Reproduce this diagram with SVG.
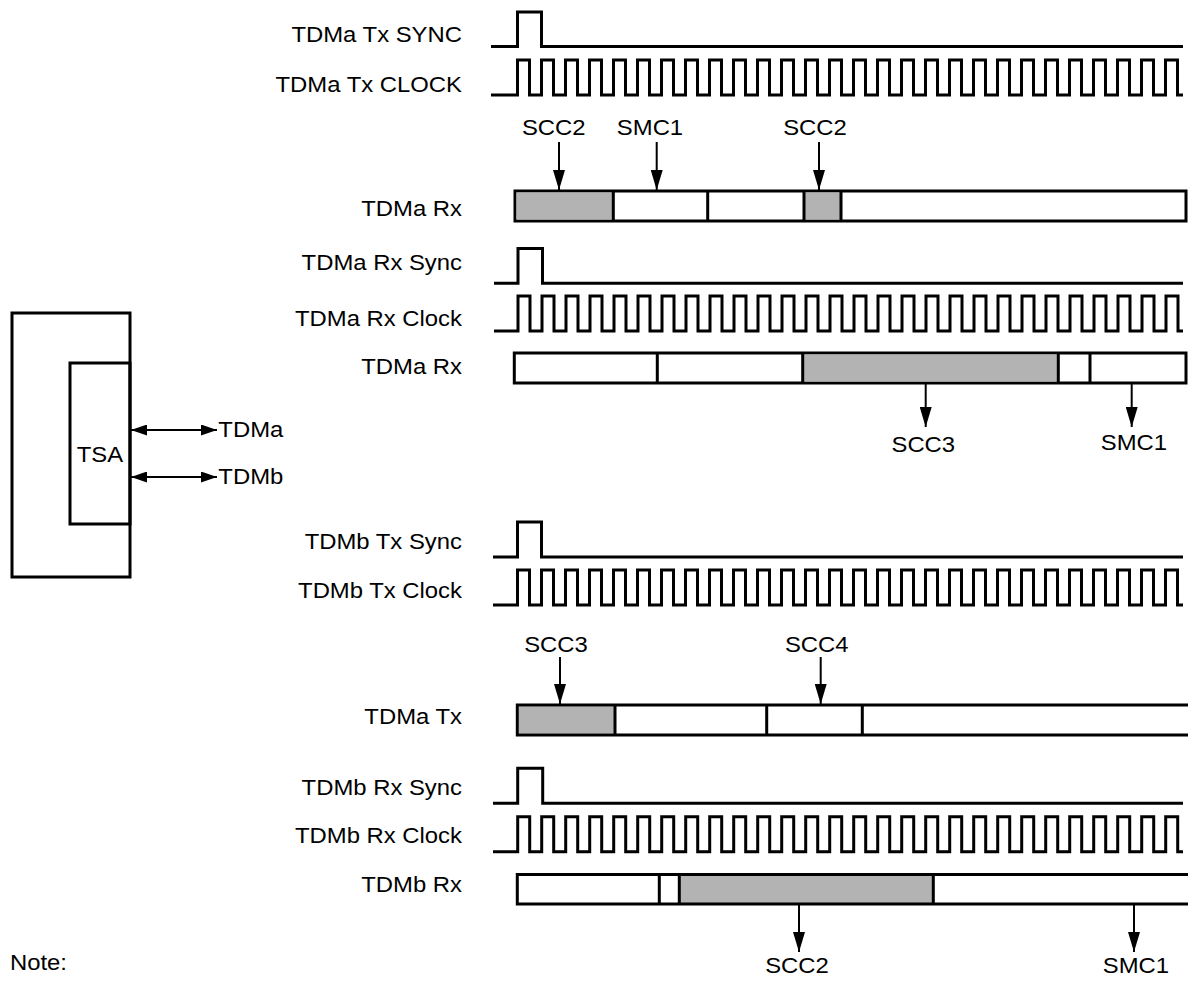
<svg xmlns="http://www.w3.org/2000/svg" width="1188" height="983" viewBox="0 0 1188 983">
<style>
  .wave{fill:none;stroke:#000;stroke-width:3;stroke-linejoin:miter;stroke-linecap:butt}
  .bar{fill:#fff;stroke:#000;stroke-width:3}
  .grey{fill:#b3b3b3;stroke:none}
  .div{stroke:#000;stroke-width:3;fill:none}
  .arr{stroke:#000;stroke-width:2;fill:none;marker-end:url(#ah)}
  .darr{stroke:#000;stroke-width:2;fill:none;marker-start:url(#ahs);marker-end:url(#ahs)}
  .box{fill:none;stroke:#000;stroke-width:3}
  text{font-family:"Liberation Sans",Arial,Helvetica,sans-serif;font-size:21.5px;fill:#000}
  .lbl{text-anchor:end}
  .mid{text-anchor:middle}
</style>
<defs>
  <marker id="ah" viewBox="0 0 20 12" refX="20" refY="6" markerWidth="20" markerHeight="12" markerUnits="userSpaceOnUse" orient="auto">
    <path d="M0,0 L20,6 L0,12 z" fill="#000"/>
  </marker>
  <marker id="ahs" viewBox="0 0 16 11" refX="16" refY="5.5" markerWidth="16" markerHeight="11" markerUnits="userSpaceOnUse" orient="auto-start-reverse">
    <path d="M0,0 L16,5.5 L0,11 z" fill="#000"/>
  </marker>
</defs>

<!-- TSA block -->
<g id="tsa-block">
  <rect class="box" x="12" y="313" width="118" height="264"/>
  <rect class="box" x="70" y="363" width="60" height="161"/>
  <text transform="scale(1.11 1)" x="90.1" y="462" class="mid">TSA</text>
</g>
<g id="tsa-connectors">
  <line class="darr" x1="131" y1="430" x2="217" y2="430"/>
  <line class="darr" x1="131" y1="477" x2="217" y2="477"/>
</g>
<g id="tsa-labels">
  <text transform="scale(1.11 1)" x="196.7" y="437">TDMa</text>
  <text transform="scale(1.11 1)" x="196.7" y="484">TDMb</text>
</g>

<!-- Section A: TDMa Tx -->
<g id="tdma-tx-sync">
  <text transform="scale(1.11 1)" class="lbl" x="416.2" y="42">TDMa Tx SYNC</text>
  <path class="wave" d="M491,46.5 H517.5 V12 H541.5 V46.5 H1183"/>
</g>
<g id="tdma-tx-clock">
  <text transform="scale(1.11 1)" class="lbl" x="416.2" y="92">TDMa Tx CLOCK</text>
  <path class="wave" d="M491,95 H517.5
    v-35 h12 v35 h12 v-35 h12 v35 h12 v-35 h12 v35 h12 v-35 h12 v35 h12 v-35 h12 v35 h12 v-35 h12 v35 h12 v-35 h12 v35 h12 v-35 h12 v35 h12 v-35 h12 v35 h12
    v-35 h12 v35 h12 v-35 h12 v35 h12 v-35 h12 v35 h12 v-35 h12 v35 h12 v-35 h12 v35 h12 v-35 h12 v35 h12 v-35 h12 v35 h12 v-35 h12 v35 h12 v-35 h12 v35 h12
    v-35 h12 v35 h12 v-35 h12 v35 h12 v-35 h12 v35 h12 v-35 h12 v35 h12 v-35 h12 v35 h12 v-35 h12 v35 h12 v-35 h12 v35 h12 v-35 h12 v35 h12 v-35 h12 v35 h12
    v-35 h12 v35 h5.5"/>
</g>
<g id="tdma-rx-1">
  <text transform="scale(1.11 1)" class="lbl" x="416.2" y="216">TDMa Rx</text>
  <rect class="bar" x="515" y="191" width="671" height="30"/>
  <rect class="grey" x="516.5" y="192.5" width="97" height="27"/>
  <rect class="grey" x="804" y="192.5" width="37" height="27"/>
  <path class="div" d="M613.3,191 V221 M707.7,191 V221 M804,191 V221 M841,191 V221"/>
  <text transform="scale(1.11 1)" class="mid" x="498.9" y="135">SCC2</text>
  <text transform="scale(1.11 1)" class="mid" x="585.6" y="135">SMC1</text>
  <text transform="scale(1.11 1)" class="mid" x="734.2" y="135">SCC2</text>
</g>

<!-- Section B: TDMa Rx -->
<g id="tdma-rx-sync">
  <text transform="scale(1.11 1)" class="lbl" x="416.2" y="270">TDMa Rx Sync</text>
  <path class="wave" d="M494,283.3 H518 V248.5 H542.5 V283.3 H1183"/>
</g>
<g id="tdma-rx-clock">
  <text transform="scale(1.11 1)" class="lbl" x="416.2" y="326">TDMa Rx Clock</text>
  <path class="wave" d="M494,331 H518
    v-35 h12 v35 h12 v-35 h12 v35 h12 v-35 h12 v35 h12 v-35 h12 v35 h12 v-35 h12 v35 h12 v-35 h12 v35 h12 v-35 h12 v35 h12 v-35 h12 v35 h12 v-35 h12 v35 h12
    v-35 h12 v35 h12 v-35 h12 v35 h12 v-35 h12 v35 h12 v-35 h12 v35 h12 v-35 h12 v35 h12 v-35 h12 v35 h12 v-35 h12 v35 h12 v-35 h12 v35 h12 v-35 h12 v35 h12
    v-35 h12 v35 h12 v-35 h12 v35 h12 v-35 h12 v35 h12 v-35 h12 v35 h12 v-35 h12 v35 h12 v-35 h12 v35 h12 v-35 h12 v35 h12 v-35 h12 v35 h12 v-35 h12 v35 h12
    v-35 h12 v35 h5"/>
</g>
<g id="tdma-rx-2">
  <text transform="scale(1.11 1)" class="lbl" x="416.2" y="374">TDMa Rx</text>
  <rect class="bar" x="514.3" y="353" width="671.7" height="30"/>
  <rect class="grey" x="802.7" y="354.5" width="255.6" height="27"/>
  <path class="div" d="M657.3,353 V383 M802.7,353 V383 M1058.3,353 V383 M1090,353 V383"/>
  <text transform="scale(1.11 1)" class="mid" x="831.8" y="452">SCC3</text>
  <text transform="scale(1.11 1)" class="mid" x="1021.6" y="450">SMC1</text>
</g>

<!-- Section C: TDMb Tx -->
<g id="tdmb-tx-sync">
  <text transform="scale(1.11 1)" class="lbl" x="416.2" y="549">TDMb Tx Sync</text>
  <path class="wave" d="M493,557 H517.5 V522 H541.5 V557 H1183"/>
</g>
<g id="tdmb-tx-clock">
  <text transform="scale(1.11 1)" class="lbl" x="416.2" y="598">TDMb Tx Clock</text>
  <path class="wave" d="M493,605 H517.5
    v-35 h12 v35 h12 v-35 h12 v35 h12 v-35 h12 v35 h12 v-35 h12 v35 h12 v-35 h12 v35 h12 v-35 h12 v35 h12 v-35 h12 v35 h12 v-35 h12 v35 h12 v-35 h12 v35 h12
    v-35 h12 v35 h12 v-35 h12 v35 h12 v-35 h12 v35 h12 v-35 h12 v35 h12 v-35 h12 v35 h12 v-35 h12 v35 h12 v-35 h12 v35 h12 v-35 h12 v35 h12 v-35 h12 v35 h12
    v-35 h12 v35 h12 v-35 h12 v35 h12 v-35 h12 v35 h12 v-35 h12 v35 h12 v-35 h12 v35 h12 v-35 h12 v35 h12 v-35 h12 v35 h12 v-35 h12 v35 h12 v-35 h12 v35 h12
    v-35 h12 v35 h5.5"/>
</g>
<g id="tdma-tx-bar">
  <text transform="scale(1.11 1)" class="lbl" x="416.2" y="724">TDMa Tx</text>
  <rect class="grey" x="518.8" y="706.5" width="96.2" height="27"/>
  <path class="div" d="M1188,705 H517.3 V735 H1188 M615,705 V735 M766.7,705 V735 M862.3,705 V735"/>
  <text transform="scale(1.11 1)" class="mid" x="500.9" y="652">SCC3</text>
  <text transform="scale(1.11 1)" class="mid" x="735.8" y="652">SCC4</text>
</g>

<!-- Section D: TDMb Rx -->
<g id="tdmb-rx-sync">
  <text transform="scale(1.11 1)" class="lbl" x="416.2" y="795">TDMb Rx Sync</text>
  <path class="wave" d="M493,803.3 H517.7 V768.3 H542.7 V803.3 H1183"/>
</g>
<g id="tdmb-rx-clock">
  <text transform="scale(1.11 1)" class="lbl" x="416.2" y="843">TDMb Rx Clock</text>
  <path class="wave" d="M493,851.7 H517.7
    v-35 h12 v35 h12 v-35 h12 v35 h12 v-35 h12 v35 h12 v-35 h12 v35 h12 v-35 h12 v35 h12 v-35 h12 v35 h12 v-35 h12 v35 h12 v-35 h12 v35 h12 v-35 h12 v35 h12
    v-35 h12 v35 h12 v-35 h12 v35 h12 v-35 h12 v35 h12 v-35 h12 v35 h12 v-35 h12 v35 h12 v-35 h12 v35 h12 v-35 h12 v35 h12 v-35 h12 v35 h12 v-35 h12 v35 h12
    v-35 h12 v35 h12 v-35 h12 v35 h12 v-35 h12 v35 h12 v-35 h12 v35 h12 v-35 h12 v35 h12 v-35 h12 v35 h12 v-35 h12 v35 h12 v-35 h12 v35 h12 v-35 h12 v35 h12
    v-35 h12 v35 h5.3"/>
</g>
<g id="tdmb-rx-bar">
  <text transform="scale(1.11 1)" class="lbl" x="416.2" y="892">TDMb Rx</text>
  <rect class="grey" x="679.3" y="876" width="254" height="27"/>
  <path class="div" d="M1188,874.5 H517.3 V904 H1188 M659.3,874.5 V904 M679.3,874.5 V904 M933.3,874.5 V904"/>
  <text transform="scale(1.11 1)" class="mid" x="718" y="973">SCC2</text>
  <text transform="scale(1.11 1)" class="mid" x="1023.4" y="973">SMC1</text>
</g>

<!-- Connectors (pointer arrows) -->
<g id="connectors">
  <line class="arr" x1="559" y1="142" x2="559" y2="190"/>
  <line class="arr" x1="656.7" y1="142" x2="656.7" y2="190"/>
  <line class="arr" x1="819" y1="142" x2="819" y2="190"/>
  <line class="arr" x1="925.7" y1="384" x2="925.7" y2="427"/>
  <line class="arr" x1="1131.7" y1="384" x2="1131.7" y2="427"/>
  <line class="arr" x1="560" y1="657" x2="560" y2="704"/>
  <line class="arr" x1="820.7" y1="657" x2="820.7" y2="704"/>
  <line class="arr" x1="799" y1="905" x2="799" y2="952"/>
  <line class="arr" x1="1134" y1="905" x2="1134" y2="952"/>
</g>

<text transform="scale(1.11 1)" x="9" y="970">Note:</text>
</svg>
